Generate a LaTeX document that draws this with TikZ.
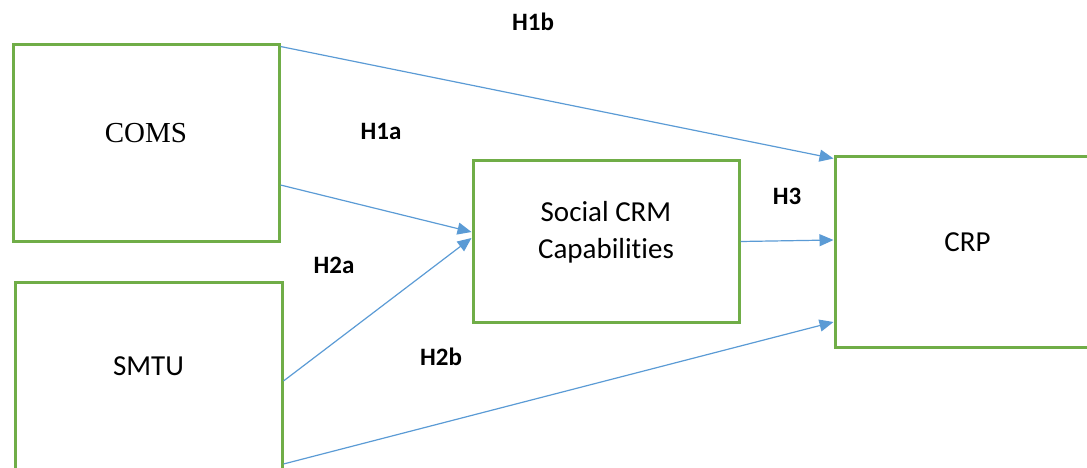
\documentclass[tikz,border=0pt]{standalone}
\usepackage{fontspec}
\setmainfont{Carlito}[Ligatures=NoCommon]
\newfontfamily\serifbox{Liberation Serif}
\usetikzlibrary{arrows.meta}

\definecolor{boxgreen}{HTML}{70AD47}
\definecolor{linkblue}{HTML}{5B9BD5}

\begin{document}
\begin{tikzpicture}[x=1pt,y=-1pt,
  box/.style={draw=boxgreen, line width=3pt, minimum width=266pt, inner sep=0pt},
  link/.style={draw=linkblue, line width=1.2pt, -{Triangle[length=14pt,width=12pt]}},
  hyp/.style={font=\bfseries\fontsize{25}{30}\selectfont},
  boxtext/.style={font=\fontsize{29}{37}\selectfont, align=center}]

\useasboundingbox (0,0) rectangle (1087,468);
\clip (0,0) rectangle (1087,468);

% boxes
\node [box, minimum height=196pt] (coms) at (146,143) {};
\node [box, minimum width=267pt, minimum height=198pt] (smtu) at (148.5,381) {};
\node [box, minimum height=161pt] (scrm) at (606,241.5) {};
\node [box, minimum width=265pt, minimum height=190pt] (crp) at (967.5,252) {};

\node [font=\serifbox\fontsize{29}{34}\selectfont] (comstext) at (146,133) {COMS};
\node [boxtext] (smtutext) at (148.5,366) {SMTU};
\node [boxtext] (scrmtext) at (606,232) {Social CRM\\Capabilities};
\node [boxtext] (crptext) at (967.5,242) {CRP};

% paths
\draw [link] ([yshift=-3pt]coms.north east) -- ([yshift=-3pt]crp.north west);
\draw [link] ([yshift=-42pt]coms.east) -- ([yshift=9.5pt]scrm.west);
\draw [link] (smtu.east) -- ([yshift=3.5pt]scrm.west);
\draw [link] ([yshift=-83pt]smtu.east) -- ([yshift=-70pt]crp.west);
\draw [link] (scrm.east) -- ([yshift=12pt]crp.west);

% hypotheses
\node [hyp] (h1b) at (533,22) {H1b};
\node [hyp] (h1a) at (381,131) {H1a};
\node [hyp] (h2a) at (334,265) {H2a};
\node [hyp] (h3) at (787,196) {H3};
\node [hyp] (h2b) at (441,357) {H2b};

\end{tikzpicture}
\end{document}
